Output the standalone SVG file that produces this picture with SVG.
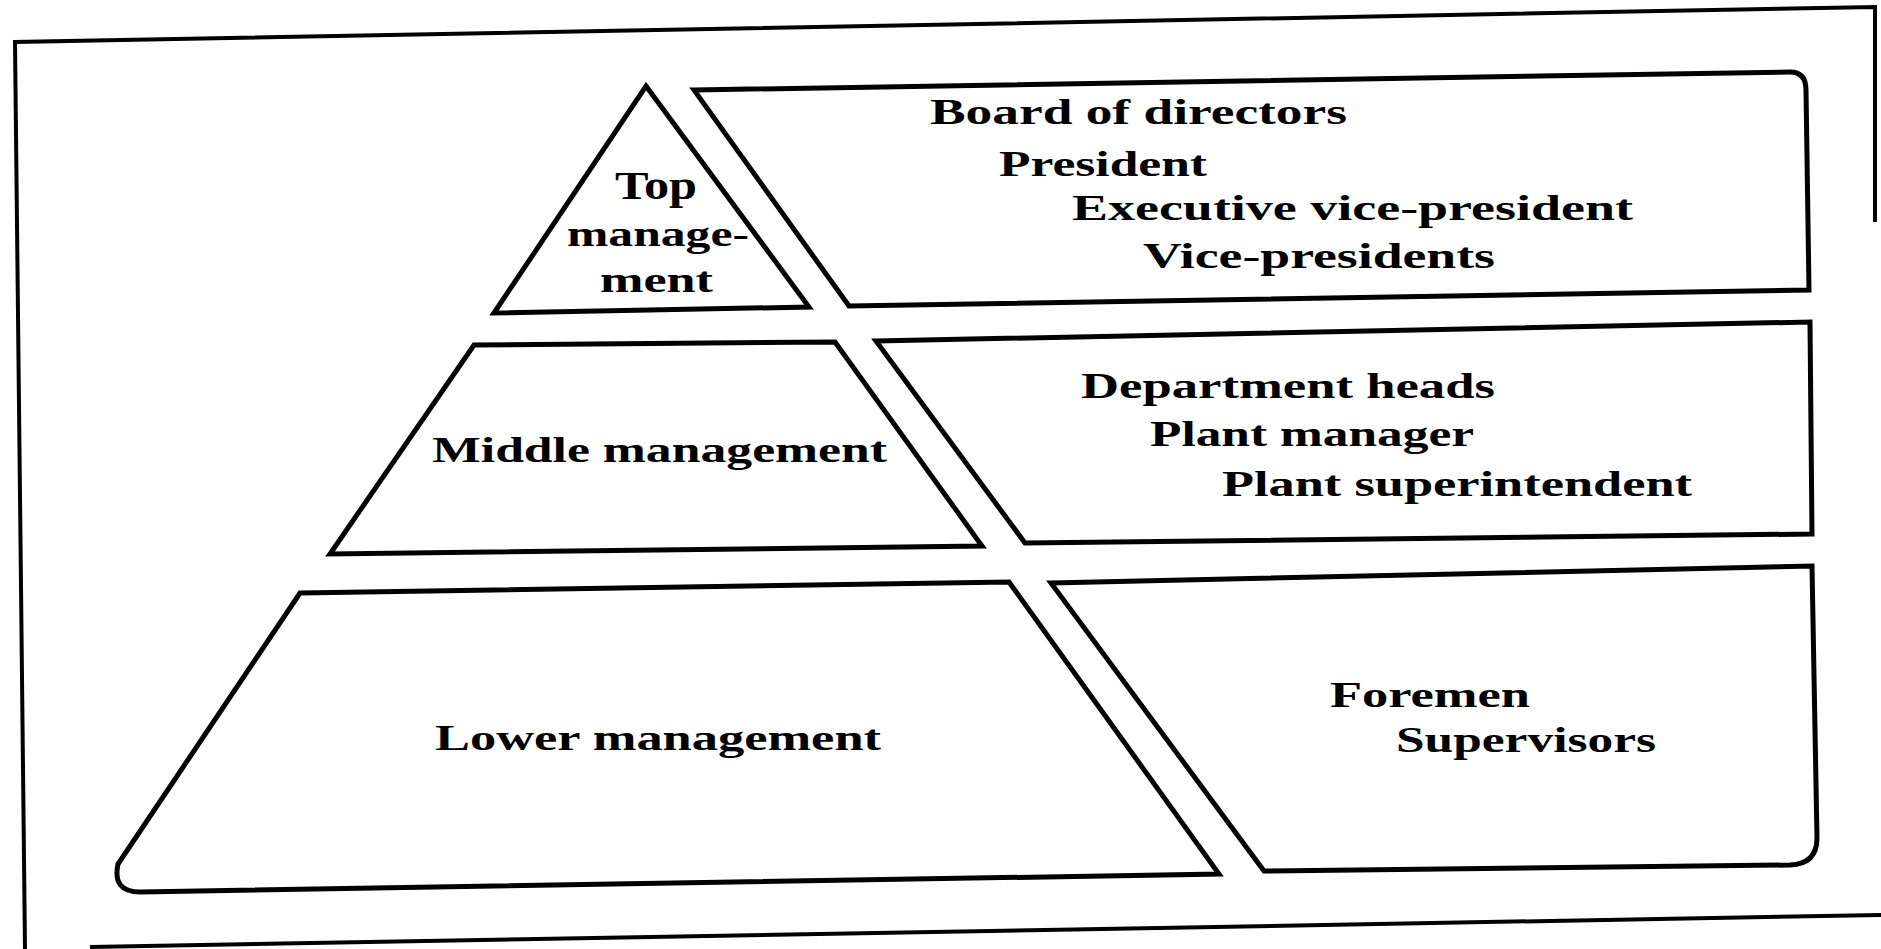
<svg xmlns="http://www.w3.org/2000/svg" width="1881" height="949" viewBox="0 0 1881 949">
<style>
.shape{fill:none;stroke:#000;stroke-width:5;stroke-linejoin:miter}
.frame{fill:none;stroke:#000;stroke-width:4}
.t{font-family:"Liberation Serif","Times New Roman",serif;font-weight:bold;font-size:36px;fill:#000}
.big{font-size:40px}
</style>
<rect width="1881" height="949" fill="#fff"/>
<g id="frame">
<polyline class="frame" points="1875,222 1875,7 15,42 25,949"/>
<line class="frame" x1="90" y1="947" x2="1881" y2="915"/>
</g>
<g id="top-management">
<polygon class="shape" points="646,86 809,307 494,313"/>
<text class="t big" x="615" y="199" textLength="82" lengthAdjust="spacingAndGlyphs">Top</text>
<text class="t" x="567" y="246" textLength="182" lengthAdjust="spacingAndGlyphs">manage-</text>
<text class="t" x="600" y="292" textLength="113" lengthAdjust="spacingAndGlyphs">ment</text>
</g>
<g id="top-roles">
<path class="shape" d="M694,90 L1790,72 Q1806,72 1806,90 L1809,290 L849,306 Z"/>
<text class="t" x="930" y="124" textLength="417" lengthAdjust="spacingAndGlyphs">Board of directors</text>
<text class="t" x="999" y="176" textLength="208" lengthAdjust="spacingAndGlyphs">President</text>
<text class="t" x="1072" y="220" textLength="561" lengthAdjust="spacingAndGlyphs">Executive vice-president</text>
<text class="t" x="1143" y="268" textLength="352" lengthAdjust="spacingAndGlyphs">Vice-presidents</text>
</g>
<g id="middle-management">
<polygon class="shape" points="474,345 835,342 982,546 330,554"/>
<text class="t" x="432" y="462" textLength="455" lengthAdjust="spacingAndGlyphs">Middle management</text>
</g>
<g id="middle-roles">
<polygon class="shape" points="876,341 1810,322 1812,534 1025,543"/>
<text class="t" x="1081" y="398" textLength="414" lengthAdjust="spacingAndGlyphs">Department heads</text>
<text class="t" x="1150" y="446" textLength="324" lengthAdjust="spacingAndGlyphs">Plant manager</text>
<text class="t" x="1222" y="496" textLength="470" lengthAdjust="spacingAndGlyphs">Plant superintendent</text>
</g>
<g id="lower-management">
<path class="shape" d="M300,593 L1009,582 L1219,874 L140,892 Q112,892 118,864 Z"/>
<text class="t" x="435" y="750" textLength="446" lengthAdjust="spacingAndGlyphs">Lower management</text>
</g>
<g id="lower-roles">
<path class="shape" d="M1051,583 L1812,566 L1817,838 Q1817,864 1790,865 L1264,871 Z"/>
<text class="t" x="1330" y="707" textLength="200" lengthAdjust="spacingAndGlyphs">Foremen</text>
<text class="t" x="1396" y="752" textLength="260" lengthAdjust="spacingAndGlyphs">Supervisors</text>
</g>
</svg>
